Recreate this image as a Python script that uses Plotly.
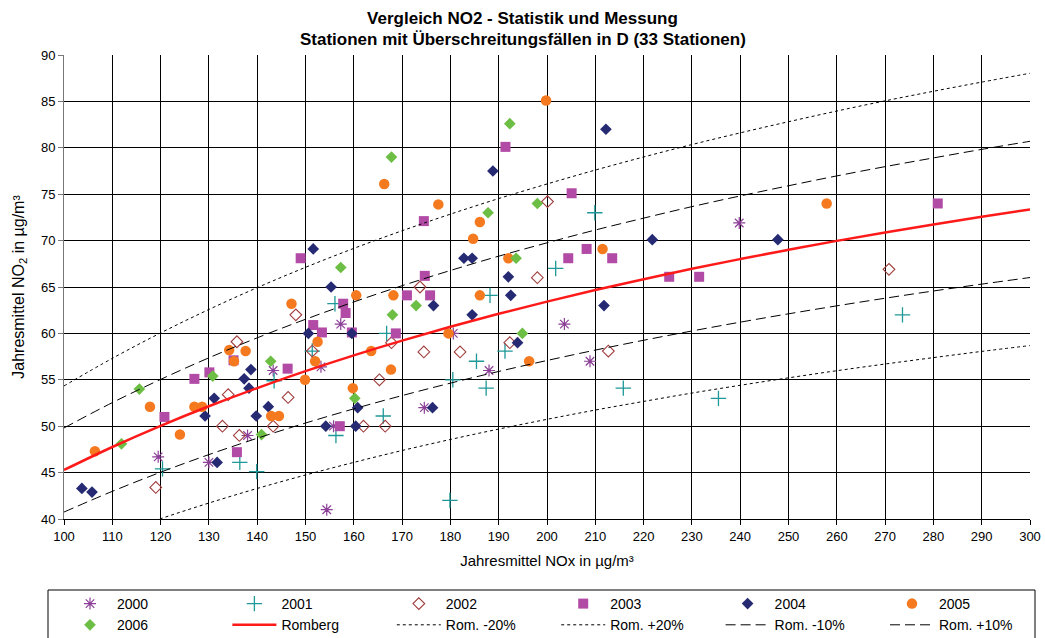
import plotly.graph_objects as go

# --- measured stations: (annual mean NOx, annual mean NO2) per year ---
nox_2000 = [143.3, 138.0, 119.5, 130.0, 157.3, 180.6, 153.2, 174.6, 155.8, 154.4, 203.6, 208.9, 188.0, 239.8]
no2_2000 = [56.0, 49.0, 46.7, 46.1, 61.0, 60.0, 56.4, 52.0, 50.0, 41.0, 61.0, 57.0, 56.0, 71.9]

nox_2001 = [143.5, 136.4, 120.4, 139.9, 156.1, 166.8, 151.4, 185.4, 180.5, 166.1, 156.3, 179.9, 209.9, 201.8,
            188.2, 191.3, 187.4, 215.8, 273.6, 235.5]
no2_2001 = [54.9, 46.1, 45.4, 45.1, 63.2, 60.0, 58.1, 57.0, 55.0, 51.1, 49.0, 42.0, 73.0, 67.0,
            64.1, 58.1, 54.1, 54.1, 62.0, 53.0]

nox_2002 = [148.0, 135.8, 134.0, 146.4, 132.8, 143.3, 136.3, 119.0, 173.7, 167.8, 151.4, 174.5, 182.0, 165.3,
            162.0, 166.5, 200.1, 198.0, 192.3, 212.7, 270.8]
no2_2002 = [62.0, 59.1, 53.4, 53.1, 50.0, 50.0, 49.0, 43.4, 65.0, 59.0, 58.1, 58.0, 58.0, 55.0,
            50.0, 50.0, 74.2, 66.0, 59.0, 58.1, 66.9]

nox_2003 = [135.1, 146.3, 127.0, 130.1, 120.8, 135.8, 174.5, 149.0, 174.7, 171.0, 175.8, 157.8, 158.3, 151.6,
            153.4, 159.6, 168.7, 157.1, 191.4, 205.1, 204.4, 208.2, 213.5, 225.3, 231.5, 280.9]
no2_2003 = [57.1, 56.2, 55.1, 55.8, 51.0, 47.2, 72.1, 68.1, 66.2, 64.1, 64.1, 63.2, 62.2, 60.9,
            60.1, 60.1, 60.0, 50.0, 80.1, 75.1, 68.1, 69.1, 68.1, 66.1, 66.1, 74.0]

nox_2004 = [103.7, 105.8, 138.7, 137.3, 138.3, 131.1, 142.3, 129.2, 139.8, 131.7, 151.6, 182.8, 184.5, 155.3,
            176.5, 184.5, 150.6, 159.6, 160.8, 176.3, 154.2, 160.4, 212.2, 188.8, 221.8, 192.0, 192.5, 211.8,
            193.9, 247.8]
no2_2004 = [43.3, 42.9, 56.1, 55.1, 54.1, 53.0, 52.1, 51.1, 51.1, 46.1, 69.1, 68.1, 68.1, 65.0,
            63.0, 62.0, 60.0, 60.0, 52.0, 52.0, 50.0, 50.0, 82.0, 77.5, 70.1, 66.1, 64.1, 63.0,
            59.0, 70.1]

nox_2005 = [106.4, 147.1, 134.2, 137.6, 135.2, 117.8, 127.0, 128.6, 142.9, 144.5, 124.0, 166.3, 177.5, 184.7,
            186.1, 160.5, 168.2, 186.1, 179.6, 152.5, 163.6, 152.0, 167.7, 149.9, 159.8, 199.8, 192.0, 211.5,
            196.3, 257.9]
no2_2005 = [47.3, 63.2, 58.2, 58.1, 57.0, 52.1, 52.1, 52.1, 51.1, 51.1, 49.1, 76.1, 73.9, 70.2,
            72.0, 64.1, 64.1, 64.1, 60.0, 59.1, 58.1, 57.0, 56.1, 55.0, 54.1, 85.1, 68.1, 69.1,
            57.0, 74.0]

nox_2006 = [142.8, 130.8, 115.6, 140.9, 111.9, 167.8, 157.3, 172.9, 168.0, 160.2, 192.3, 198.0, 187.8, 193.6, 194.9]
no2_2006 = [57.0, 55.4, 54.0, 49.1, 48.1, 79.0, 67.1, 63.0, 62.0, 53.0, 82.6, 74.0, 73.0, 68.1, 60.0]

# --- Romberg relation and its +/-10 % and +/-20 % bands ---
nox_curve = [100, 110, 120, 130, 140, 150, 160, 170, 180, 190, 200,
             210, 220, 230, 240, 250, 260, 270, 280, 290, 300]
romberg = [45.28, 47.76, 50.04, 52.15, 54.11, 55.93, 57.63, 59.22, 60.71, 62.11, 63.42,
           64.67, 65.84, 66.96, 68.01, 69.01, 69.97, 70.88, 71.74, 72.57, 73.36]
rom_m20 = [36.22, 38.21, 40.03, 41.72, 43.29, 44.74, 46.10, 47.38, 48.57, 49.69, 50.74,
           51.74, 52.67, 53.57, 54.41, 55.21, 55.98, 56.70, 57.39, 58.06, 58.69]
rom_p20 = [54.34, 57.31, 60.05, 62.58, 64.93, 67.12, 69.16, 71.06, 72.85, 74.53, 76.10,
           77.60, 79.01, 80.35, 81.61, 82.81, 83.96, 85.06, 86.09, 87.08, 88.03]
rom_m10 = [40.75, 42.98, 45.04, 46.94, 48.70, 50.34, 51.87, 53.30, 54.64, 55.90, 57.08,
           58.20, 59.26, 60.26, 61.21, 62.11, 62.97, 63.79, 64.57, 65.31, 66.02]
rom_p10 = [49.81, 52.54, 55.04, 57.37, 59.52, 61.52, 63.39, 65.14, 66.78, 68.32, 69.76,
           71.14, 72.42, 73.66, 74.81, 75.91, 76.97, 77.97, 78.91, 79.83, 80.70]

x_ticks = [100, 110, 120, 130, 140, 150, 160, 170, 180, 190, 200,
           210, 220, 230, 240, 250, 260, 270, 280, 290, 300]
y_ticks = [40, 45, 50, 55, 60, 65, 70, 75, 80, 85, 90]

FONT = "Liberation Sans, Arial, sans-serif"
W, H = 1045, 638
ML, MR, MT, MB = 64, 15, 55, 119
PW, PH = W - ML - MR, H - MT - MB


def px_to_paper_x(px):
    return (px - ML) / PW


def px_to_paper_y(py):
    return (H - MB - py) / PH


fig = go.Figure()

scatter_series = [
    ("2000", nox_2000, no2_2000, dict(symbol="asterisk-open", size=10, color="#8B3F96",
                                      line=dict(color="#8B3F96", width=1.2))),
    ("2001", nox_2001, no2_2001, dict(symbol="cross-thin-open", size=11, color="#1F9898",
                                      line=dict(color="#1F9898", width=1.3))),
    ("2002", nox_2002, no2_2002, dict(symbol="diamond-open", size=9, color="#A03C3C",
                                      line=dict(color="#A03C3C", width=1.1))),
    ("2003", nox_2003, no2_2003, dict(symbol="square", size=10, color="#B14BA5",
                                      line=dict(width=0))),
    ("2004", nox_2004, no2_2004, dict(symbol="diamond", size=9, color="#262A73",
                                      line=dict(width=0))),
    ("2005", nox_2005, no2_2005, dict(symbol="circle", size=10.5, color="#F57A1F",
                                      line=dict(width=0))),
    ("2006", nox_2006, no2_2006, dict(symbol="diamond", size=9, color="#6DBE45",
                                      line=dict(width=0))),
]

for name, xs, ys, marker in scatter_series:
    fig.add_trace(go.Scatter(x=xs, y=ys, mode="markers", name=name, marker=marker))

line_series = [
    ("Romberg", romberg, dict(color="#FF1A1A", width=2.5, dash="solid")),
    ("Rom. -20%", rom_m20, dict(color="black", width=1, dash="3px,3px")),
    ("Rom. +20%", rom_p20, dict(color="black", width=1, dash="3px,3px")),
    ("Rom. -10%", rom_m10, dict(color="black", width=1, dash="10px,5px")),
    ("Rom. +10%", rom_p10, dict(color="black", width=1, dash="10px,5px")),
]

for name, ys, line in line_series:
    fig.add_trace(go.Scatter(x=nox_curve, y=ys, mode="lines", name=name,
                             line=dict(shape="spline", **line)))

# legend frame (drawn as a shape so the entries can sit inset from the border)
fig.add_shape(type="rect", xref="paper", yref="paper",
              x0=px_to_paper_x(48), x1=px_to_paper_x(1035),
              y0=px_to_paper_y(590), y1=px_to_paper_y(660),
              line=dict(color="black", width=1), fillcolor="white", layer="below")

# second title line
fig.add_annotation(text="<b>Stationen mit Überschreitungsfällen in D (33 Stationen)</b>",
                   xref="paper", yref="paper", x=px_to_paper_x(523), y=px_to_paper_y(40),
                   xanchor="center", yanchor="middle", showarrow=False,
                   font=dict(family=FONT, size=17, color="black"))

fig.update_layout(
    width=W,
    height=H,
    margin=dict(l=ML, r=MR, t=MT, b=MB, autoexpand=False),
    paper_bgcolor="white",
    plot_bgcolor="white",
    font=dict(family=FONT, size=13, color="black"),
    title=dict(
        text="Vergleich NO2 - Statistik und Messung",
        x=0.5, xanchor="center", xref="container",
        y=1 - 18 / H, yanchor="middle", yref="container",
        font=dict(family=FONT, size=17, color="black", weight="bold"),
    ),
    xaxis=dict(
        range=[100, 300], tickvals=x_ticks, ticktext=[str(v) for v in x_ticks],
        showgrid=True, gridcolor="black", gridwidth=1.2,
        showline=True, linecolor="black", linewidth=1,
        ticks="outside", ticklen=5, tickcolor="black",
        zeroline=False, tickfont=dict(size=13),
        title=dict(text="Jahresmittel NOx in µg/m³", font=dict(size=15), standoff=12),
    ),
    yaxis=dict(
        range=[40, 90], tickvals=y_ticks, ticktext=[str(v) for v in y_ticks],
        showgrid=True, gridcolor="black", gridwidth=1.2,
        showline=True, linecolor="#777777", linewidth=1,
        ticks="outside", ticklen=5, tickcolor="#777777",
        zeroline=False, tickfont=dict(size=13),
        title=dict(text="Jahresmittel NO<sub>2</sub> in µg/m³", font=dict(size=16), standoff=12),
    ),
    legend=dict(
        orientation="h",
        x=px_to_paper_x(63), xanchor="left",
        y=px_to_paper_y(588), yanchor="top",
        bgcolor="rgba(0,0,0,0)", borderwidth=0,
        font=dict(family=FONT, size=14),
        itemwidth=44,
        entrywidth=105.4, entrywidthmode="pixels",
        traceorder="normal",
        tracegroupgap=0,
    ),
)

fig.write_html("out.html")
